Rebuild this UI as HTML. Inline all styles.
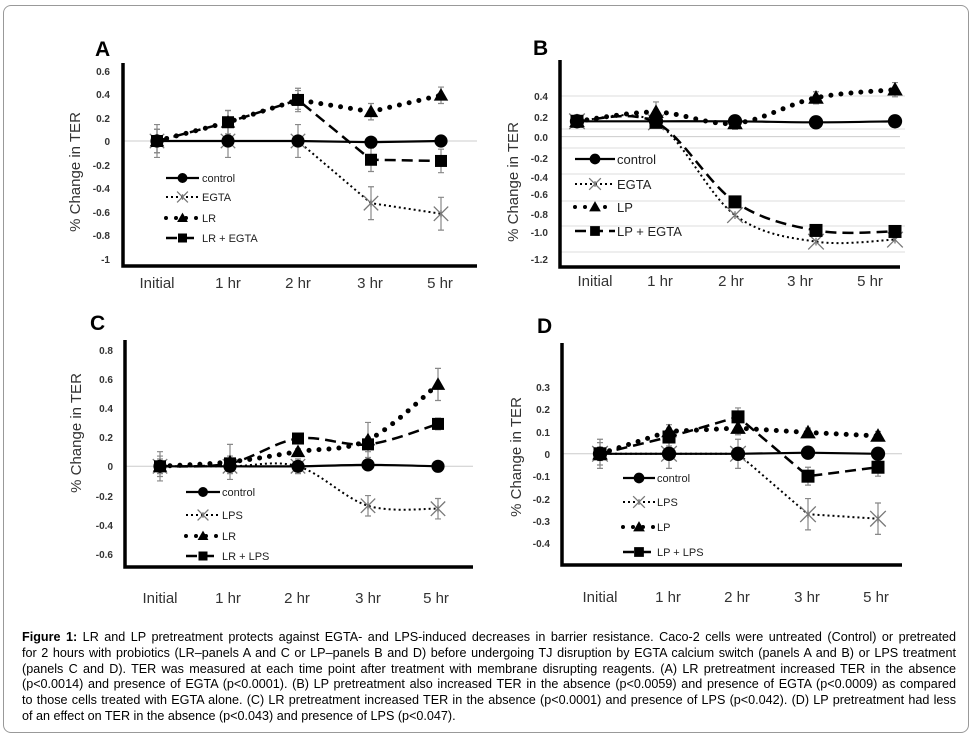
<!DOCTYPE html>
<html><head><meta charset="utf-8"><style>
html,body{margin:0;padding:0;background:#fff;}
body{width:976px;height:740px;position:relative;overflow:hidden;font-family:"Liberation Sans",Arial,sans-serif;}
#frame{position:absolute;left:3px;top:5px;width:966px;height:728px;border:1px solid #999;border-radius:8px;box-sizing:border-box;}
svg{position:absolute;left:0;top:0;}
#cap{position:absolute;left:22px;top:630px;width:934px;font-size:12.6px;line-height:15.8px;color:#000;}
#cap div{text-align:justify;text-align-last:justify;white-space:nowrap;}
#cap div.l{text-align-last:left;}
text{font-family:"Liberation Sans",Arial,sans-serif;}
</style></head><body>
<div id="frame"></div>
<svg id="s" width="976" height="740" viewBox="0 0 976 740">
<g font-weight="bold" font-size="21" fill="#000">
<text x="95" y="56">A</text><text x="533" y="55">B</text><text x="90" y="330">C</text><text x="537" y="333">D</text>
</g>
<g font-size="15" fill="#333">
<text transform="translate(80,172) rotate(-90)" text-anchor="middle">% Change in TER</text>
<text transform="translate(518,182) rotate(-90)" text-anchor="middle">% Change in TER</text>
<text transform="translate(81,433) rotate(-90)" text-anchor="middle">% Change in TER</text>
<text transform="translate(521,457) rotate(-90)" text-anchor="middle">% Change in TER</text>
</g>
<g font-size="10" font-weight="bold" fill="#333" text-anchor="end">
<text x="110" y="75">0.6</text><text x="110" y="98">0.4</text><text x="110" y="122">0.2</text><text x="110" y="145">0</text><text x="110" y="169">-0.2</text><text x="110" y="192">-0.4</text><text x="110" y="216">-0.6</text><text x="110" y="239">-0.8</text><text x="110" y="263">-1</text>
<text x="548" y="100">0.4</text><text x="548" y="121">0.2</text><text x="548" y="141">0.0</text><text x="548" y="162">-0.2</text><text x="548" y="181">-0.4</text><text x="548" y="198">-0.6</text><text x="548" y="218">-0.8</text><text x="548" y="236">-1.0</text><text x="548" y="263">-1.2</text>
<text x="113" y="354">0.8</text><text x="113" y="383">0.6</text><text x="113" y="412">0.4</text><text x="113" y="441">0.2</text><text x="113" y="470">0</text><text x="113" y="500">-0.2</text><text x="113" y="529">-0.4</text><text x="113" y="558">-0.6</text>
<text x="550" y="391">0.3</text><text x="550" y="413">0.2</text><text x="550" y="436">0.1</text><text x="550" y="458">0</text><text x="550" y="480">-0.1</text><text x="550" y="503">-0.2</text><text x="550" y="525">-0.3</text><text x="550" y="547">-0.4</text>
</g>
<g font-size="15" fill="#333" text-anchor="middle">
<text x="157" y="288">Initial</text><text x="228" y="288">1 hr</text><text x="298" y="288">2 hr</text><text x="370" y="288">3 hr</text><text x="440" y="288">5 hr</text>
<text x="595" y="286">Initial</text><text x="660" y="286">1 hr</text><text x="731" y="286">2 hr</text><text x="800" y="286">3 hr</text><text x="870" y="286">5 hr</text>
<text x="160" y="603">Initial</text><text x="228" y="603">1 hr</text><text x="297" y="603">2 hr</text><text x="368" y="603">3 hr</text><text x="436" y="603">5 hr</text>
<text x="600" y="602">Initial</text><text x="668" y="602">1 hr</text><text x="737" y="602">2 hr</text><text x="807" y="602">3 hr</text><text x="876" y="602">5 hr</text>
</g>
<g font-size="11" fill="#222">
<text x="202" y="182">control</text><text x="202" y="201">EGTA</text><text x="202" y="222">LR</text><text x="202" y="242">LR + EGTA</text>
<text x="617" y="164" font-size="13">control</text><text x="617" y="189" font-size="13">EGTA</text><text x="617" y="212" font-size="13">LP</text><text x="617" y="236" font-size="13">LP + EGTA</text>
<text x="222" y="496">control</text><text x="222" y="519">LPS</text><text x="222" y="540">LR</text><text x="222" y="560">LR + LPS</text>
<text x="657" y="482">control</text><text x="657" y="506">LPS</text><text x="657" y="531">LP</text><text x="657" y="556">LP + LPS</text>
</g>
<g id="g"></g>
</svg>
<div id="cap">
<div><b>Figure 1:</b> LR and LP pretreatment protects against EGTA- and LPS-induced decreases in barrier resistance. Caco-2 cells were untreated (Control) or pretreated</div>
<div>for 2 hours with probiotics (LR–panels A and C or LP–panels B and D) before undergoing TJ disruption by EGTA calcium switch (panels A and B) or LPS treatment</div>
<div>(panels C and D). TER was measured at each time point after treatment with membrane disrupting reagents. (A) LR pretreatment increased TER in the absence</div>
<div>(p&lt;0.0014) and presence of EGTA (p&lt;0.0001). (B) LP pretreatment also increased TER in the absence (p&lt;0.0059) and presence of EGTA (p&lt;0.0009) as compared</div>
<div>to those cells treated with EGTA alone. (C) LR pretreatment increased TER in the absence (p&lt;0.0001) and presence of LPS (p&lt;0.042). (D) LP pretreatment had less</div>
<div class="l">of an effect on TER in the absence (p&lt;0.043) and presence of LPS (p&lt;0.047).</div>
</div>
<script>
var G=document.getElementById('g'),NS='http://www.w3.org/2000/svg';
function el(t,a){var e=document.createElementNS(NS,t);for(var k in a)e.setAttribute(k,a[k]);G.appendChild(e);return e;}
var sty={
 c:{stroke:'#000','stroke-width':2.2,fill:'none'},
 x:{stroke:'#000','stroke-width':2,fill:'none','stroke-dasharray':'2 3'},
 t:{stroke:'#000','stroke-width':5,fill:'none','stroke-dasharray':'0 10','stroke-linecap':'round'},
 s:{stroke:'#000','stroke-width':2.5,fill:'none','stroke-dasharray':'11 6'}};
function mk(type,x,y,sz){
 if(type=='c')el('circle',{cx:x,cy:y,r:sz*0.55,fill:'#000'});
 if(type=='x'){var r=sz*0.6;el('path',{d:'M'+(x-r)+' '+(y-r)+'L'+(x+r)+' '+(y+r)+'M'+(x-r)+' '+(y+r)+'L'+(x+r)+' '+(y-r)+'M'+x+' '+(y-r*0.5)+'L'+x+' '+(y+r*0.5),stroke:'#777','stroke-width':1.3,fill:'none'});}
 if(type=='t'){var r=sz*0.6;el('path',{d:'M'+x+' '+(y-r)+'L'+(x+r)+' '+(y+r*0.75)+'L'+(x-r)+' '+(y+r*0.75)+'Z',fill:'#000'});}
 if(type=='s'){var r=sz*0.5;el('rect',{x:x-r,y:y-r,width:2*r,height:2*r,fill:'#000'});}
}
function smooth(p){var d='M'+p[0][0]+' '+p[0][1];for(var i=0;i<p.length-1;i++){var p0=p[i>0?i-1:0],p1=p[i],p2=p[i+1],p3=p[i+2<p.length?i+2:i+1];
 d+='C'+(p1[0]+(p2[0]-p0[0])/6)+' '+(p1[1]+(p2[1]-p0[1])/6)+' '+(p2[0]-(p3[0]-p1[0])/6)+' '+(p2[1]-(p3[1]-p1[1])/6)+' '+p2[0]+' '+p2[1];}return d;}
function panel(P){
 if(P.grid)P.grid.forEach(function(y){el('line',{x1:P.ax,x2:P.gx2,y1:y,y2:y,stroke:'#ddd','stroke-width':1});});
 el('line',{x1:P.ax,x2:P.x2,y1:P.y0,y2:P.y0,stroke:'#ccc','stroke-width':1});
 P.series.forEach(function(S){
  var pts=S.v.map(function(v,i){return [P.xs[i],P.y0-v*P.k];});
  if(S.e)S.e.forEach(function(e,i){if(!e)return;var x=pts[i][0],y=pts[i][1],a=y-e*P.k,b=y+e*P.k;
   el('path',{d:'M'+x+' '+a+'L'+x+' '+b+'M'+(x-3)+' '+a+'L'+(x+3)+' '+a+'M'+(x-3)+' '+b+'L'+(x+3)+' '+b,stroke:'#888','stroke-width':1.2,fill:'none'});});
  var a=Object.assign({},sty[S.m]);a.d=P.smooth?smooth(pts):'M'+pts.map(function(p){return p.join(' ')}).join('L');el('path',a);
 });
 P.series.forEach(function(S){S.v.forEach(function(v,i){mk(S.m,P.xs[i],P.y0-v*P.k,P.ms);});});
 ['c','x','t','s'].forEach(function(m,i){var y=P.ly[i],a=Object.assign({},sty[m]);if(m=='t'){a['stroke-width']=4;}
  a.d='M'+P.lx1+' '+y+'L'+P.lx2+' '+y;el('path',a);mk(m,(P.lx1+P.lx2)/2,y,P.ms*0.75);});
 el('path',{d:'M'+P.ax+' '+P.ytop+'L'+P.ax+' '+P.y1+'L'+P.x2+' '+P.y1,stroke:'#000','stroke-width':3.5,fill:'none'});
}
panel({ax:123,x2:477,y1:266,ytop:63,y0:141,k:117.3,xs:[157,228,298,371,441],ms:12,lx1:166,lx2:199,ly:[178,197,218,238],
 series:[
 {m:'x',v:[0,0,0,-0.53,-0.62],e:[0.14,0.14,0.14,0.14,0.14]},
 {m:'c',v:[0,0,0,-0.01,0]},
 {m:'t',v:[0,0.16,0.35,0.25,0.39],e:[0.1,0.1,0.08,0.07,0.07]},
 {m:'s',v:[0,0.16,0.35,-0.16,-0.17],e:[0.1,0.1,0.1,0.1,0.1]}]});
panel({ax:560,x2:900,gx2:905,grid:[96,129,148,174,201,226,252],y1:267,ytop:60,y0:136.6,k:102,xs:[577,656,735,816,895],ms:13,smooth:1,lx1:575,lx2:615,ly:[159,184,207,231],
 series:[
 {m:'x',v:[0.15,0.14,-0.77,-1.03,-1.01],e:[0.05,0.05,0,0,0]},
 {m:'c',v:[0.15,0.15,0.15,0.14,0.15]},
 {m:'t',v:[0.15,0.24,0.13,0.38,0.46],e:[0.05,0.1,0.06,0.06,0.07]},
 {m:'s',v:[0.15,0.14,-0.64,-0.92,-0.93]}]});
panel({ax:125,x2:473,y1:567,ytop:340,y0:466.3,k:146.2,xs:[160,230,298,368,438],ms:12,smooth:1,lx1:186,lx2:220,ly:[492,515,536,556],
 series:[
 {m:'x',v:[0,0,0,-0.27,-0.29],e:[0.1,0.05,0.05,0.07,0.07]},
 {m:'c',v:[0,0,0,0.01,0]},
 {m:'t',v:[0,0.03,0.1,0.18,0.56],e:[0.07,0.12,0.02,0.12,0.11]},
 {m:'s',v:[0,0.02,0.19,0.15,0.29],e:[0.05,0.05,0.03,0.05,0.04]}]});
panel({ax:562,x2:902,y1:565,ytop:343,y0:453.8,k:223.8,xs:[600,669,738,808,878],ms:13,lx1:623,lx2:655,ly:[478,502,527,552],
 series:[
 {m:'x',v:[0,0,0,-0.27,-0.29],e:[0.065,0.065,0.065,0.07,0.07]},
 {m:'c',v:[0,0,0,0.005,0]},
 {m:'t',v:[0,0.1,0.115,0.095,0.08],e:[0.03,0.03,0.03,0.02,0.02]},
 {m:'s',v:[0,0.075,0.165,-0.1,-0.06],e:[0.05,0.04,0.04,0.04,0.04]}]});
</script>
</body></html>
